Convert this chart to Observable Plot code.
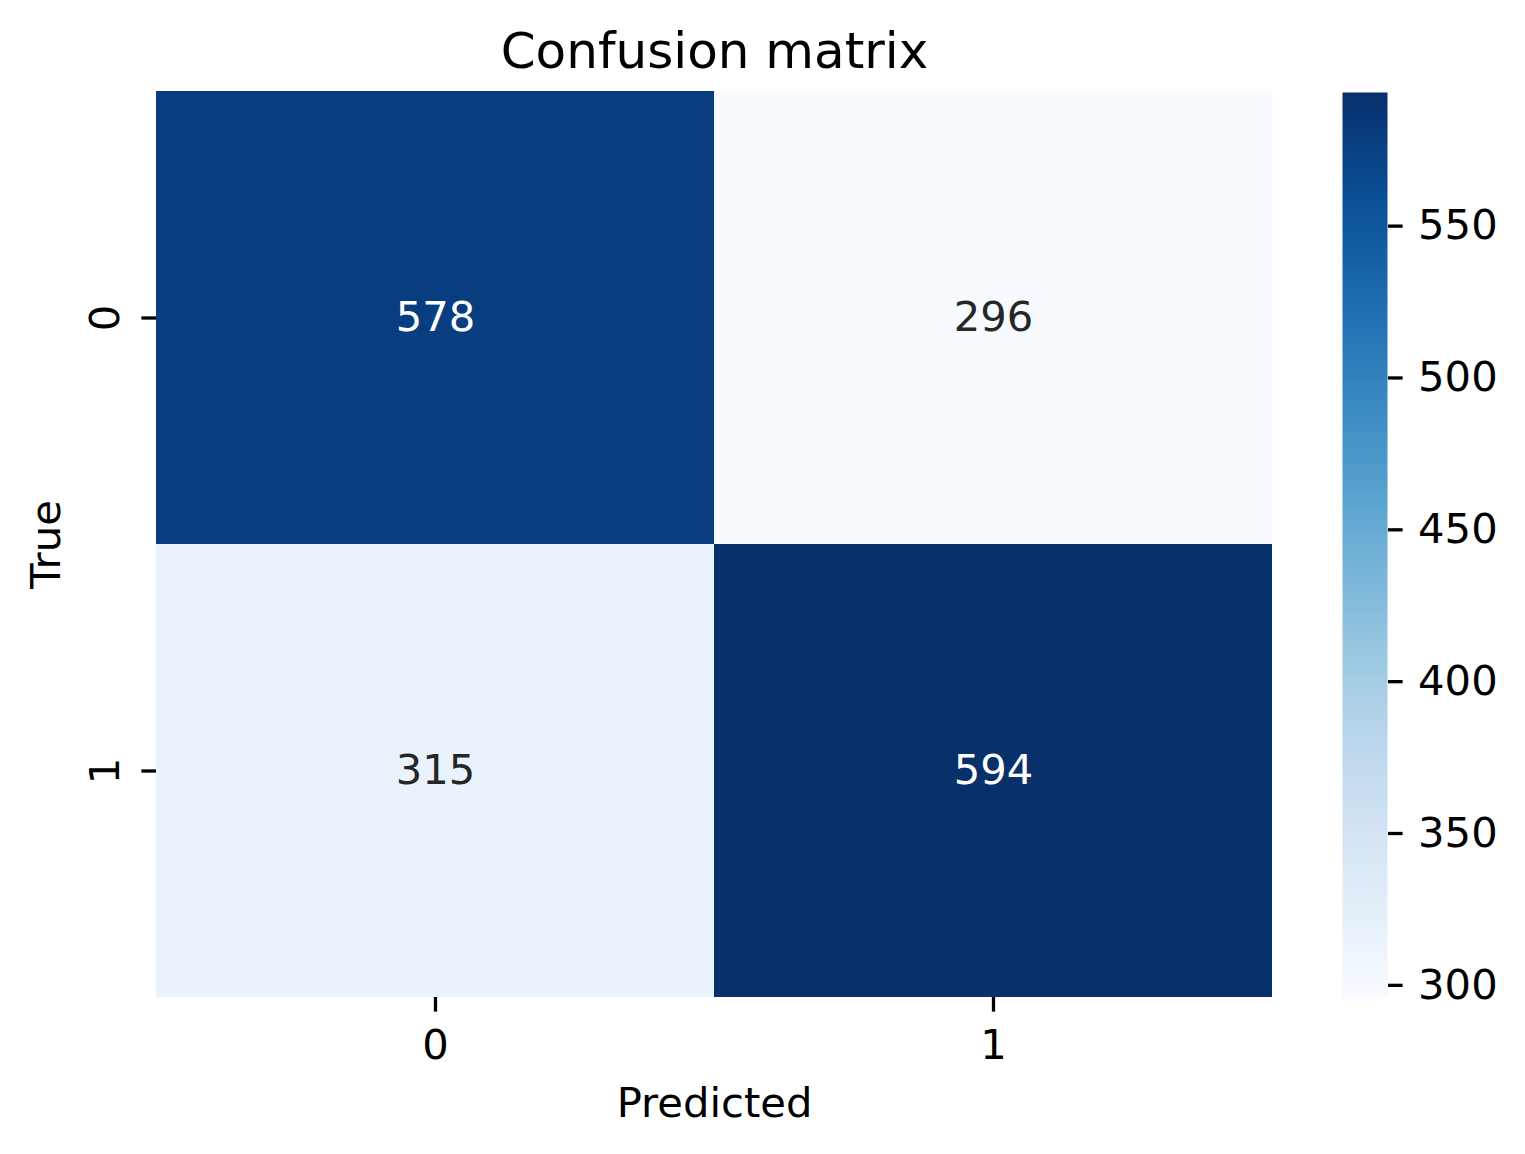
<!DOCTYPE html>
<html>
<head>
<meta charset="utf-8">
<script src="https://cdn.jsdelivr.net/npm/d3@7"></script>
<script src="https://cdn.jsdelivr.net/npm/@observablehq/plot@0.6"></script>
<style>
  html, body { margin: 0; padding: 0; background: white; }
  #wrap { position: relative; width: 1525px; height: 1154px; background: white; }
  #wrap svg { position: absolute; top: 0; overflow: visible; }
</style>
</head>
<body>
<div id="wrap"></div>
<script>
// ---- data ----
const classes = ["0", "1"];
const trueLabels = ["0", "0", "1", "1"];
const predictedLabels = ["0", "1", "0", "1"];
const counts = [578, 296, 315, 594];
const colorbarTicks = [300, 350, 400, 450, 500, 550];
const colorDomain = [296, 594];
const titleText = "Confusion matrix";
const xLabel = "Predicted";
const yLabel = "True";

const cells = counts.map((v, i) => ({ t: trueLabels[i], p: predictedLabels[i], v }));
const font = "DejaVu Sans, Verdana, sans-serif";
const fs = 41.7;
const colorScale = { type: "linear", scheme: "blues", domain: colorDomain };
const mid = (colorDomain[0] + colorDomain[1]) / 2;

const main = Plot.plot({
  width: 1525,
  height: 1154,
  marginLeft: 156,
  marginRight: 253,
  marginTop: 91,
  marginBottom: 157,
  style: { fontFamily: font, fontSize: fs + "px", background: "white", color: "black", overflow: "visible" },
  x: { type: "band", domain: classes, padding: 0, label: null },
  y: { type: "band", domain: classes, padding: 0, label: null },
  color: colorScale,
  marks: [
    Plot.cell(cells, { x: "p", y: "t", fill: "v", inset: 0 }),
    Plot.text(cells, {
      x: "p", y: "t", text: d => String(d.v),
      fill: d => (d.v > mid ? "white" : "#262626"),
      fontSize: fs
    }),
    Plot.axisX({ tickSize: 14.6, tickPadding: 17, strokeWidth: 3.3, label: null, fontSize: fs }),
    Plot.axisY({ tickSize: 14.6, tickPadding: 23, strokeWidth: 3.3, label: null, fontSize: fs, tickRotate: -90 }),
    Plot.text([titleText], { frameAnchor: "top", lineAnchor: "middle", text: d => d, dy: -40, fontSize: 50, fill: "black" }),
    Plot.text([xLabel], { frameAnchor: "bottom", lineAnchor: "middle", text: d => d, dy: 106.4, fontSize: fs, fill: "black" }),
    Plot.text([yLabel], { frameAnchor: "left", lineAnchor: "middle", textAnchor: "middle", text: d => d, dx: -110, rotate: -90, fontSize: fs, fill: "black" })
  ]
});
main.style.left = "0px";
document.getElementById("wrap").appendChild(main);

const bar = Plot.plot({
  width: 183,
  height: 1154,
  marginLeft: 0,
  marginRight: 138,
  marginTop: 92,
  marginBottom: 157,
  style: { fontFamily: font, fontSize: fs + "px", background: "transparent", color: "black", overflow: "visible" },
  x: { domain: [0, 1], axis: null },
  y: { domain: colorDomain, axis: null },
  color: colorScale,
  marks: [
    Plot.raster({ x1: 0, x2: 1, y1: colorDomain[0], y2: colorDomain[1], width: 1, height: 600, fill: (x, y) => y }),
    Plot.axisY(colorbarTicks, { anchor: "right", tickSize: 14.6, tickPadding: 16, strokeWidth: 3.3, label: null, fontSize: fs })
  ]
});
bar.style.left = "1342px";
document.getElementById("wrap").appendChild(bar);
</script>
</body>
</html>
